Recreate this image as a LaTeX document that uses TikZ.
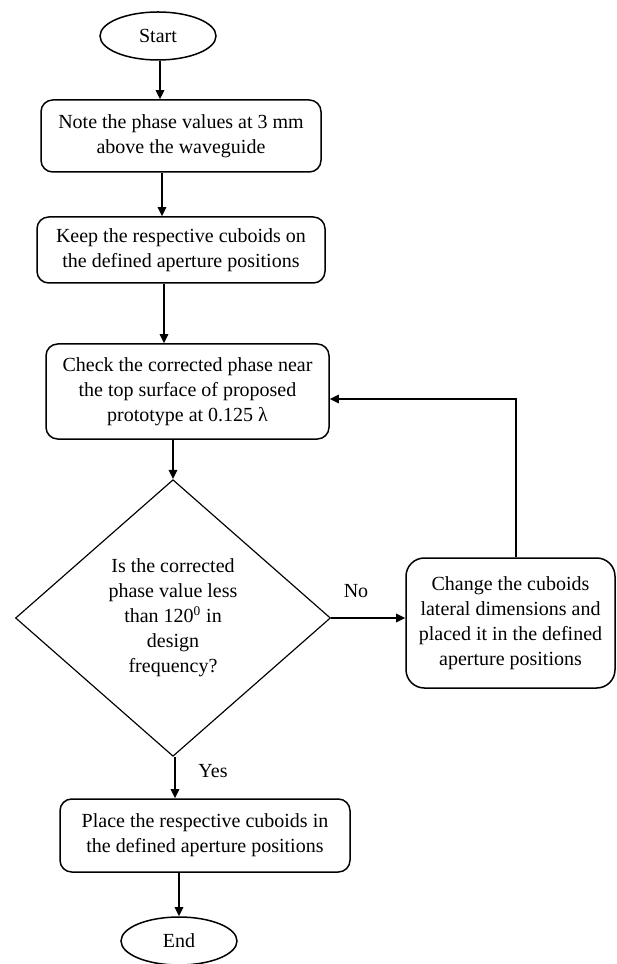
\documentclass[tikz,border=0pt]{standalone}
\usepackage{fontspec}
\setmainfont{Liberation Serif}
\usetikzlibrary{shapes.geometric,arrows.meta}
\begin{document}
\begin{tikzpicture}[x=0.6pt,y=-0.6pt,
  every node/.style={font=\fontsize{12}{15}\selectfont},
  proc/.style={draw, line width=0.9pt, rounded corners=7pt, align=center, inner sep=0pt},
  term/.style={draw, ellipse, line width=0.9pt, inner sep=0pt},
  arr/.style={line width=1.2pt, -{Triangle[length=5.5pt,width=5pt]}},
]
\useasboundingbox (0,0) rectangle (616,964);
\node[term, minimum width=69.6pt, minimum height=28.8pt] (start) at (158,36) {Start};
\node[proc, minimum width=168pt, minimum height=43.2pt] (b1) at (181,136) {Note the phase values at 3 mm\\above the waveguide};
\node[proc, minimum width=172.8pt, minimum height=39.6pt] (b2) at (181,250) {Keep the respective cuboids on\\the defined aperture positions};
\node[proc, minimum width=169.8pt, minimum height=57pt] (b3) at (187.5,391.5) {Check the corrected phase near\\the top surface of proposed\\prototype at 0.125 λ};
\node[draw, diamond, line width=0.7pt, minimum width=189pt, minimum height=166pt, align=center, inner sep=0pt] (dia) at (173,618) {Is the corrected\\phase value less\\than 120\textsuperscript{0} in\\design\\frequency?};
\node[proc, rounded corners=11pt, minimum width=125.4pt, minimum height=78pt] (rb) at (510.5,623) {Change the cuboids\\lateral dimensions and\\placed it in the defined\\aperture positions};
\node[proc, minimum width=174pt, minimum height=43.8pt] (b4) at (205,835.5) {Place the respective cuboids in\\the defined aperture positions};
\node[term, minimum width=69.6pt, minimum height=28.8pt] (end) at (179,941) {End};
\node (no) at (356,591) {No};
\node (yes) at (213,771) {Yes};

\draw[arr] ([xshift=1.2pt]start.south) -- ([xshift=1.2pt]start.south |- b1.north);
\draw[arr] (b1.south -| 162,0) -- (b2.north -| 162,0);
\draw[arr] (b2.south -| 164,0) -- (b3.north -| 164,0);
\draw[arr] (b3.south -| dia.north) -- (dia.north);
\draw[arr] (dia.east) -- (rb.west |- dia.east);
\draw[arr] ([xshift=3pt]rb.north) |- ([yshift=-4.5pt]b3.east);
\draw[arr] ([xshift=1.2pt]dia.south) -- ([xshift=1.2pt]dia.south |- b4.north);
\draw[arr] (b4.south -| end.north) -- (end.north);
\end{tikzpicture}
\end{document}
